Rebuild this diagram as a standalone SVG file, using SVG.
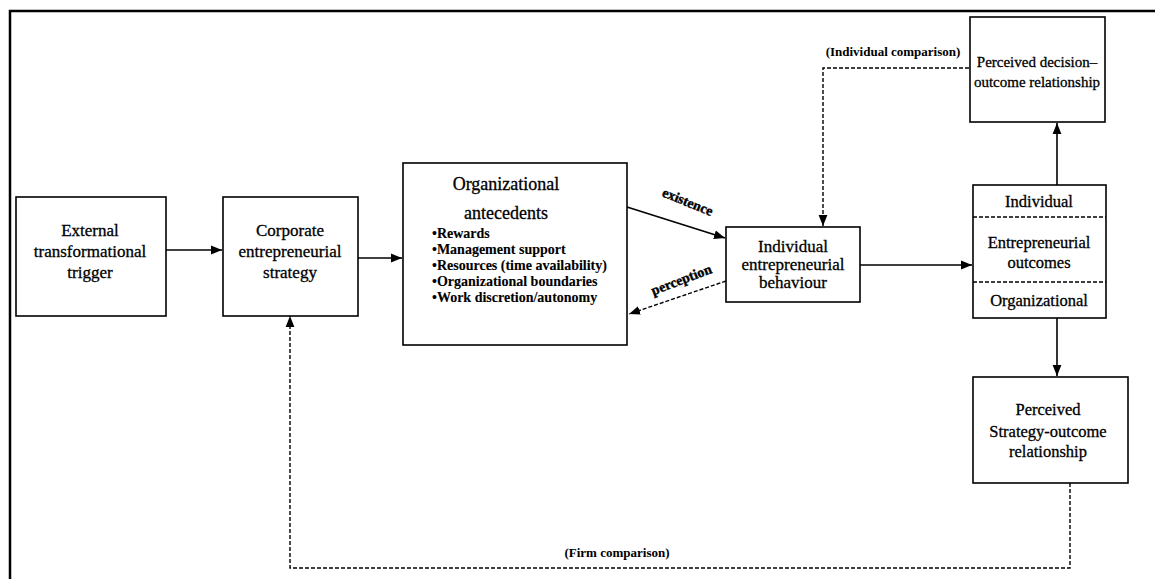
<svg xmlns="http://www.w3.org/2000/svg" width="1155" height="579" viewBox="0 0 1155 579">
<defs>
<marker id="ah" viewBox="0 0 10 10" refX="10" refY="5" markerWidth="11" markerHeight="11" markerUnits="userSpaceOnUse" orient="auto">
<path d="M0,1 L10,5 L0,9 Z" fill="#000"/>
</marker>
<style>
.box{fill:#fff;stroke:#000;stroke-width:1.6}
text{font-family:"Liberation Serif","Times New Roman",serif;fill:#000;stroke:#000;stroke-width:0.3}
.t{font-size:17px;text-anchor:middle}
.r{font-size:16.5px;text-anchor:middle}
.d{font-size:15px;text-anchor:middle}
.ti{font-size:18px;text-anchor:middle}
.b{font-size:14px;font-weight:bold;stroke-width:0.1}
.s{font-size:13px;font-weight:bold;text-anchor:middle;stroke-width:0}
.lab{font-size:14px;font-weight:bold;text-anchor:middle;stroke-width:0.4}
.ln{fill:none;stroke:#000;stroke-width:1.6}
.dash{fill:none;stroke:#000;stroke-width:1.4;stroke-dasharray:4,2}
</style>
</defs>
<rect width="1155" height="579" fill="#fff"/>
<path d="M10,579 L10,11 L1155,11" fill="none" stroke="#000" stroke-width="2.5"/>

<g id="connectors">
<line class="ln" x1="166" y1="250" x2="222" y2="250" marker-end="url(#ah)"/>
<line class="ln" x1="358" y1="258" x2="402" y2="258" marker-end="url(#ah)"/>
<line class="ln" x1="627" y1="207" x2="725" y2="238" marker-end="url(#ah)"/>
<line class="dash" x1="726" y1="281" x2="629" y2="314" marker-end="url(#ah)"/>
<line class="ln" x1="860" y1="265" x2="972" y2="265" marker-end="url(#ah)"/>
<line class="ln" x1="1057" y1="185" x2="1057" y2="123" marker-end="url(#ah)"/>
<line class="ln" x1="1057" y1="318" x2="1057" y2="376" marker-end="url(#ah)"/>
<path class="dash" d="M969,68 L823,68 L823,226" marker-end="url(#ah)"/>
<path class="dash" d="M1070,483 L1070,568 L290,568 L290,316" marker-end="url(#ah)"/>
<text class="lab" transform="translate(686,206) rotate(22)">existence</text>
<text class="lab" transform="translate(683,284) rotate(-21)">perception</text>
<text class="s" x="893" y="56">(Individual comparison)</text>
<text class="s" x="617" y="557">(Firm comparison)</text>
</g>

<g id="external">
<rect class="box" x="16" y="197" width="150" height="119"/>
<text class="t" x="90" y="236">External</text>
<text class="t" x="90" y="257">transformational</text>
<text class="t" x="90" y="278">trigger</text>
</g>

<g id="corporate">
<rect class="box" x="223" y="197" width="135" height="119"/>
<text class="t" x="290" y="236">Corporate</text>
<text class="t" x="290" y="257">entrepreneurial</text>
<text class="t" x="290" y="278">strategy</text>
</g>

<g id="antecedents">
<rect class="box" x="403" y="163" width="224" height="182"/>
<text class="ti" x="506" y="190">Organizational</text>
<text class="ti" x="506" y="219">antecedents</text>
<text class="b" x="432" y="238">•Rewards</text>
<text class="b" x="432" y="254">•Management support</text>
<text class="b" x="432" y="270">•Resources (time availability)</text>
<text class="b" x="432" y="286">•Organizational boundaries</text>
<text class="b" x="432" y="302">•Work discretion/autonomy</text>
</g>

<g id="behaviour">
<rect class="box" x="726" y="227" width="134" height="75"/>
<text class="t" x="793" y="252">Individual</text>
<text class="t" x="793" y="270">entrepreneurial</text>
<text class="t" x="793" y="288">behaviour</text>
</g>

<g id="outcomes">
<rect class="box" x="973" y="185" width="133" height="133"/>
<line class="dash" x1="973" y1="217" x2="1106" y2="217"/>
<line class="dash" x1="973" y1="282" x2="1106" y2="282"/>
<text class="r" x="1039" y="207">Individual</text>
<text class="r" x="1039" y="248">Entrepreneurial</text>
<text class="r" x="1039" y="268">outcomes</text>
<text class="r" x="1039" y="306">Organizational</text>
</g>

<g id="decision">
<rect class="box" x="970" y="17" width="135" height="105"/>
<text class="d" x="1037" y="67">Perceived decision–</text>
<text class="d" x="1037" y="87">outcome relationship</text>
</g>

<g id="strategy">
<rect class="box" x="973" y="377" width="155" height="106"/>
<text class="r" x="1048" y="415">Perceived</text>
<text class="r" x="1048" y="437">Strategy-outcome</text>
<text class="r" x="1048" y="457">relationship</text>
</g>
</svg>
